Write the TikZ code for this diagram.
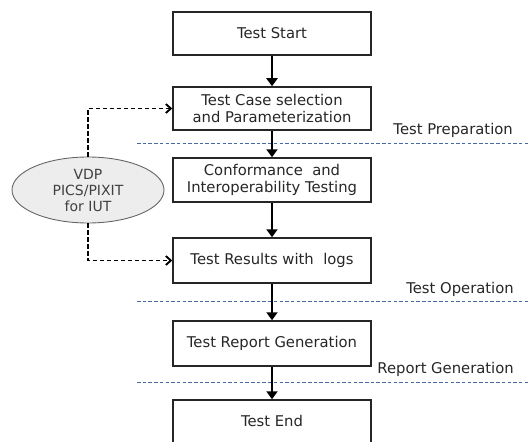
\documentclass[tikz,border=0pt]{standalone}
\usepackage{fontspec}
\setmainfont{DejaVu Sans}
\usetikzlibrary{arrows.meta,shapes.geometric}
\definecolor{phaseblue}{RGB}{70,105,165}
\begin{document}
\begin{tikzpicture}[x=1pt,y=-1pt,
  font=\fontsize{14.8}{17.5}\selectfont,
  stepbox/.style={draw=black!85, line width=1.5pt, minimum width=198pt, text=black!85, align=center, inner sep=0pt},
  flow/.style={line width=2.2pt, -{Triangle[length=8pt,width=11pt]}},
  feed/.style={line width=1.9pt, dash pattern=on 4.5pt off 2.5pt, -{Straight Barb[length=5pt,width=9pt]}},
  phase/.style={draw=phaseblue, line width=1pt, dash pattern=on 3.5pt off 2.2pt},
  phaselabel/.style={text=black!85, anchor=east, inner sep=0pt}]
\useasboundingbox (0,0) rectangle (529,441);
% process steps
\node[stepbox, minimum height=43pt] (start) at (272,33.5) {Test Start};
\node[stepbox, minimum height=43pt] (select) at (272,108.5) {Test Case selection\\and Parameterization};
\node[stepbox, minimum height=44pt] (conf) at (272,180) {Conformance \ and\\Interoperability Testing};
\node[stepbox, minimum height=45pt] (res) at (272,260.5) {Test Results with \ logs};
\node[stepbox, minimum height=45pt] (rep) at (272,343.5) {Test Report Generation};
\node[stepbox, minimum height=60pt] (end) at (272,430) {};
\node[text=black!85] (endtext) at (272,421) {Test End};
% input document
\node[draw=black!60, fill=black!7, line width=0.9pt, ellipse, minimum width=152pt, minimum height=66pt, inner sep=0pt, text=black!75, align=center, font=\fontsize{14}{16}\selectfont] (vdp) at (88,190) {VDP\\PICS/PIXIT\\for IUT};
% phase separators
\coordinate (p1a) at (137,143); \coordinate (p1b) at (529,143);
\coordinate (p2a) at (137,301); \coordinate (p2b) at (529,301);
\coordinate (p3a) at (137,382); \coordinate (p3b) at (529,382);
\draw[phase] (p1a) -- (p1b);
\draw[phase] (p2a) -- (p2b);
\draw[phase] (p3a) -- (p3b);
\node[phaselabel] (l1) at (513,130) {Test Preparation};
\node[phaselabel] (l2) at (514,289) {Test Operation};
\node[phaselabel] (l3) at (514,369) {Report Generation};
% main flow
\draw[flow] (start) -- (select);
\draw[flow] (select) -- (conf);
\draw[flow] (conf) -- (res);
\draw[flow] (res) -- (rep);
\draw[flow] (rep) -- (end);
% feeds from the ellipse
\draw[feed] (vdp.north) |- (select.west);
\draw[feed] (vdp.south) |- (res.west);
\end{tikzpicture}
\end{document}
